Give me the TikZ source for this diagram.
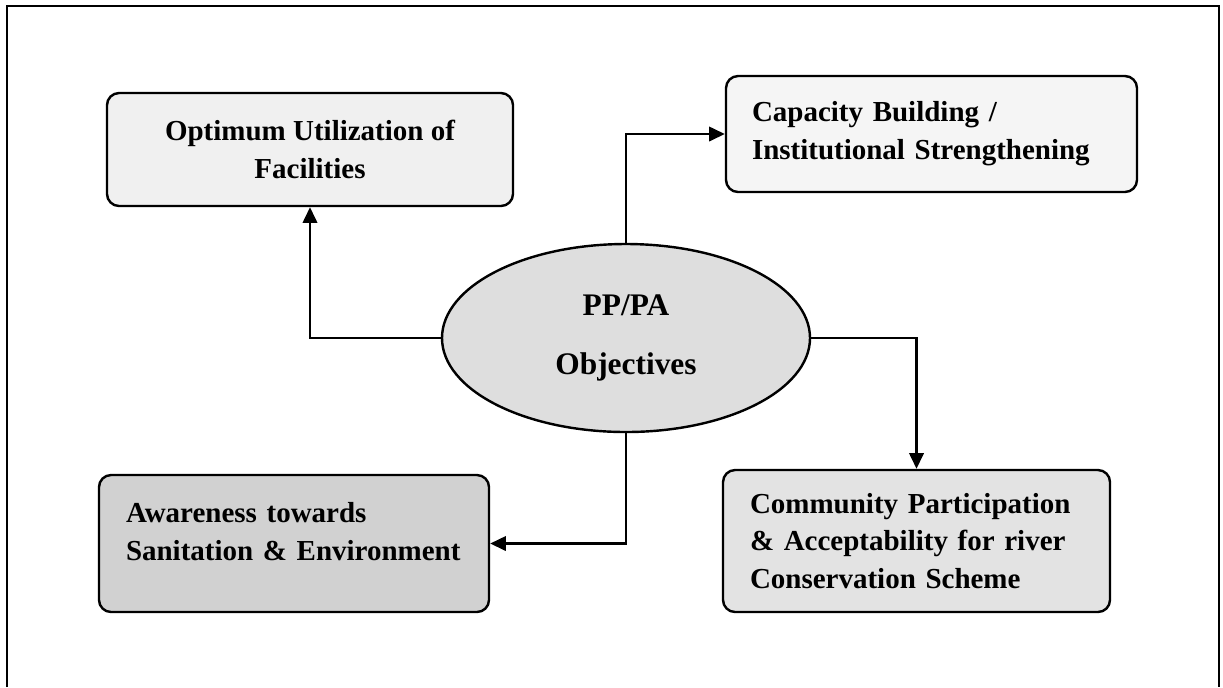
\documentclass[tikz,border=0pt]{standalone}
\usepackage{fontspec}
\setmainfont{Liberation Serif}
\usetikzlibrary{
  arrows.meta,%
  shapes.geometric
}
% one unit of the picture
\def\pu{0.414pt}
\tikzset{>={Triangle[length=6.5pt, width=6pt]}}
\tikzset{font=\fontsize{12}{15.7}\selectfont\bfseries}
\tikzset{aimbox/.style={draw, line width=1pt, rounded corners=5pt, inner sep=0pt},
  link/.style={->, line width=0.9pt}}

\begin{document}
\begin{tikzpicture}[x=\pu, y=-\pu]
  \useasboundingbox (0,0) rectangle (1223,687);
  % frame, open at the bottom
  \draw[line width=0.9pt] (7,687) |- (1219,6) -- (1219,687);
  \node[ellipse, draw, line width=1pt, fill=black!13, minimum width=368*\pu, minimum height=188*\pu,
    align=center, font=\fontsize{13}{24.4}\selectfont\bfseries] (hub) at (626,338) {PP/PA\\Objectives};
  \node[aimbox, fill=black!6, minimum width=406*\pu, minimum height=113*\pu, align=center]
    (opt) at (310,149.5) {Optimum Utilization of\\Facilities};
  \node[aimbox, fill=black!4, minimum width=411*\pu, minimum height=116*\pu, text width=359*\pu, align=left]
    (cap) at (931.5,134) {Capacity Building /\\Institutional Strengthening};
  \node[aimbox, fill=black!18, minimum width=390*\pu, minimum height=137*\pu, text width=336*\pu, align=left,
    text depth=25.7pt] (aw) at (294,543.5) {Awareness towards\\Sanitation \& Environment};
  \node[aimbox, fill=black!11, minimum width=387*\pu, minimum height=142*\pu, text width=333*\pu, align=left]
    (com) at (916.5,541) {Community Participation\\\& Acceptability for river\\Conservation Scheme};
  \draw[link] (hub.west) -| (opt.south);
  \draw[link] (hub.north) |- (cap.west);
  \draw[link] (hub.east) -| (com.north);
  \draw[link] (hub.south) |- (aw.east);
\end{tikzpicture}
\end{document}
